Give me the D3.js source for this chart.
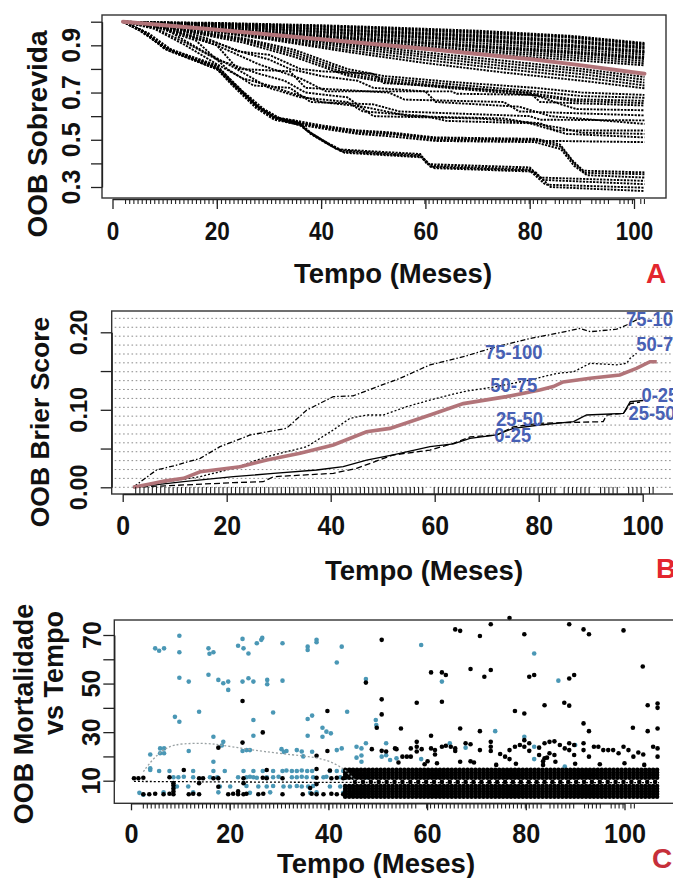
<!DOCTYPE html>
<html><head><meta charset="utf-8">
<script src="https://cdn.jsdelivr.net/npm/d3@7"></script>
<style>
body{margin:0;background:#fff}
svg{display:block}
text{font-family:"Liberation Sans",Arial,sans-serif;font-weight:bold;fill:#111}
</style>
</head><body>
<svg id="chart" width="673" height="878"></svg>
<script>
// ---------------- DATA ----------------
const xTicks = [0,20,40,60,80,100];
const survYTicks = [0.3,0.4,0.5,0.6,0.7,0.8,0.9,1.0];
const survYLabels = [0.3,0.5,0.7,0.9];
const brierYTicks = [0,0.05,0.1,0.15,0.2];
const brierYLabels = [0,0.1,0.2];
const mortYTicks = [10,20,30,40,50,60,70];
const mortYLabels = [10,30,50,70];

// event times (rug)
const eventTimes = [2.5,3.3,4.1,4.9,5.7,6.5,7.3,8.1,8.9,9.7,10.5,11.3,12.1,12.9,13.7,14.5,15.3,16.1,16.9,17.7,18.5,19.3,20.1,20.9,21.7,22.5,23.3,24.1,24.9,25.7,26.5,27.3,28.1,28.9,29.7,30.5,31.3,32.1,32.9,33.7,34.5,35.3,36.1,36.9,37.7,38.5,39.3,40.1,40.9,41.7,42.5,43.3,44.1,44.9,45.7,46.5,47.3,48.1,48.9,49.7,50.5,51.3,52.1,52.9,53.7,54.5,55.3,56.1,56.9,57.7,59.9,60.7,61.5,62.3,63.1,63.9,64.7,65.5,66.3,67.1,67.9,68.7,69.5,70.3,71.1,71.9,72.7,73.5,74.3,75.1,75.9,76.7,77.5,78.3,79.1,79.9,80.7,81.5,82.3,83.1,84.9,85.7,86.5,87.3,88.1,88.9,89.7,91.9,92.7,93.5,94.3,95.1,97.3,98.1,98.9,99.7,101.3,102.0];

// Panel A: OOB survival curves [time, survival]
const survMean = [[2,1],[10,.985],[20,.966],[30,.946],[40,.926],[50,.906],[60,.885],[70,.863],[80,.842],[90,.815],[102,.78]];
const survTop = [
 [[2,1],[20,.995],[40,.985],[50,.978],[70,.962],[88,.94],[102,.91]],
 [[2,1],[20,.993],[40,.981],[50,.974],[70,.957],[88,.936],[102,.906]],
 [[2,1],[20,.992],[40,.978],[50,.97],[70,.952],[88,.932],[102,.902]],
 [[2,1],[20,.99],[40,.972],[50,.963],[70,.944],[88,.922],[102,.895]],
 [[2,1],[20,.988],[40,.969],[50,.959],[70,.939],[88,.917],[102,.89]],
 [[2,1],[20,.987],[40,.966],[50,.956],[70,.935],[88,.912],[102,.886]],
 [[2,1],[20,.984],[40,.96],[50,.949],[70,.927],[88,.902],[102,.877]],
 [[2,1],[20,.982],[40,.957],[50,.945],[70,.922],[88,.897],[102,.872]],
 [[2,1],[20,.98],[40,.954],[50,.942],[70,.918],[88,.893],[102,.868]],
 [[2,1],[20,.977],[40,.948],[50,.935],[70,.909],[88,.884],[102,.86]],
 [[2,1],[20,.974],[40,.942],[50,.928],[70,.9],[88,.875],[102,.851]],
 [[2,1],[20,.972],[40,.939],[50,.924],[70,.895],[88,.87],[102,.846]],
 [[2,1],[20,.971],[40,.936],[50,.921],[70,.891],[88,.866],[102,.842]],
 [[2,1],[20,.968],[40,.93],[50,.914],[70,.882],[88,.857],[102,.833]],
 [[2,1],[20,.965],[40,.925],[50,.907],[70,.875],[88,.848],[102,.824]],
 [[2,1],[20,.962],[40,.918],[50,.898],[70,.866],[88,.838],[102,.815]]
];
const survMid = [
 [[2,1],[15,.98],[30,.945],[45,.905],[60,.87],[75,.835],[90,.8],[102,.766]],
 [[2,1],[15,.978],[30,.94],[45,.898],[60,.86],[75,.824],[90,.79],[102,.754]],
 [[2,1],[15,.975],[30,.935],[45,.89],[60,.85],[75,.812],[90,.778],[102,.742]],
 [[2,1],[15,.972],[30,.93],[45,.88],[60,.838],[75,.8],[90,.765],[102,.73]],
 [[2,1],[15,.97],[30,.925],[45,.872],[60,.825],[75,.785],[90,.75],[102,.718]],
 [[2,1],[12,.975],[25,.93],[35,.88],[45,.8],[52,.77],[65,.745],[81,.72],[90,.7],[102,.69]],
 [[2,1],[12,.972],[25,.925],[35,.87],[45,.79],[52,.76],[65,.735],[81,.705],[90,.685],[102,.678]],
 [[2,1],[12,.97],[25,.92],[35,.86],[45,.78],[52,.752],[65,.725],[81,.695],[88,.672],[102,.665]],
 [[2,1],[12,.968],[25,.912],[35,.85],[45,.772],[52,.745],[65,.718],[81,.688],[88,.665],[102,.655]],
 [[2,1],[10,.97],[20,.9],[28,.82],[36,.76],[41,.705],[65,.705],[66,.695],[81,.69],[86,.65],[89,.63],[102,.625]]
];
const survLow = [
 [[2,1],[10,.98],[18,.93],[24,.875],[30,.86],[36,.8],[40,.79],[50,.78],[52,.74],[60,.73],[80,.7],[82,.66],[102,.645]],
 [[2,1],[10,.975],[20,.9],[24,.8],[34,.79],[37,.72],[53,.7],[56,.67],[75,.66],[78,.62],[102,.603]],
 [[2,1],[8,.98],[16,.92],[22,.8],[27,.73],[34,.72],[38,.66],[50,.65],[55,.62],[80,.6],[82,.585],[102,.582]],
 [[2,1],[8,.975],[15,.9],[20,.84],[28,.78],[33,.75],[37,.7],[45,.68],[50,.6],[70,.59],[82,.57],[85,.54],[102,.539]],
 [[2,1],[10,.97],[17,.88],[23,.81],[30,.72],[36,.68],[45,.66],[48,.62],[60,.6],[64,.58],[80,.57],[87,.525],[102,.51]],
 [[2,1],[10,.972],[20,.91],[25,.87],[30,.84],[34,.8],[40,.77],[47,.75],[50,.72],[60,.705],[62,.66],[78,.64],[84,.6],[102,.567]],
 [[2,1],[8,.97],[14,.9],[20,.82],[25,.76],[30,.73],[34,.7],[40,.66],[48,.64],[57,.6],[75,.59],[86,.55],[90,.53],[102,.525]],
 [[2,1],[5,.97],[9.7,.894],[20,.816],[23,.745],[27.6,.646],[30.8,.596],[35.3,.58],[40.4,.56],[46.8,.54],[53,.532],[62,.51],[81.3,.504],[85.8,.48],[88.3,.41],[90.3,.369],[102,.362]],
 [[2,1],[5,.965],[10,.89],[20,.81],[23,.74],[27.6,.64],[31,.592],[35,.575],[40,.556],[47,.536],[53,.528],[62,.506],[81,.5],[86,.47],[88.5,.4],[90.5,.36],[102,.354]],
 [[2,1],[6,.96],[10,.885],[20,.805],[23,.735],[28,.635],[31,.59],[36,.57],[41,.55],[47,.53],[54,.522],[62,.5],[81,.496],[102,.49]],
 [[2,1],[6,.955],[10,.885],[20,.8],[23,.73],[27.5,.635],[31,.585],[35.5,.565],[41,.545],[47,.525],[53,.515],[62,.495],[81,.49],[86,.46],[88.5,.39],[91,.35],[102,.34]],
 [[2,1],[6,.96],[10,.89],[20,.81],[23,.74],[27.6,.645],[31,.595],[35.3,.58],[37.2,.54],[40.4,.497],[43,.46],[53,.447],[59,.44],[60.3,.397],[80,.383],[82,.34],[102,.326]],
 [[2,1],[6,.955],[11,.88],[20,.8],[24,.72],[28,.64],[32,.59],[36,.57],[38,.53],[41,.49],[44,.455],[54,.44],[59,.435],[61,.39],[80,.375],[82.5,.33],[102,.312]],
 [[2,1],[6,.955],[11,.875],[20,.8],[24,.715],[28,.635],[32,.585],[36,.565],[38,.525],[41,.485],[44,.45],[55,.435],[59,.43],[61,.385],[80,.37],[83,.31],[102,.297]],
 [[2,1],[7,.95],[12,.87],[21,.79],[25,.705],[29,.63],[33,.58],[36,.56],[38.5,.52],[41.5,.48],[44.5,.445],[56,.43],[59.5,.425],[61.5,.38],[81,.365],[84,.3],[102,.283]]
];

// Panel B: OOB Brier score [time, score]
const brierAll = [[2,0],[5,.004],[8,.008],[11.7,.0116],[14.9,.02],[22.6,.0266],[27.7,.0352],[34.1,.0439],[40.5,.0546],[46.9,.0717],[51.4,.076],[59.1,.0933],[65.5,.108],[73.8,.117],[80.2,.1255],[82.8,.13],[84.7,.136],[89.9,.1406],[95.6,.145],[98.8,.1535],[101.4,.162],[102.7,.162]];
const brierQ1 = [[2,0],[11.7,.0072],[21.3,.0137],[29,.018],[37.3,.0223],[42.4,.0266],[46.9,.0352],[52,.0417],[59.1,.0524],[63.6,.0559],[66.8,.0632],[71.9,.0675],[75.1,.0761],[80.2,.0804],[86.7,.0847],[89.2,.0933],[96.3,.0955],[97.6,.1105],[100.1,.112]];
const brierQ2 = [[2,0],[11.7,.003],[21.3,.006],[27,.0072],[29,.0137],[40.5,.018],[45,.0245],[52,.0417],[59.1,.048],[63.6,.0568],[66.8,.065],[71.9,.0675],[75.1,.078],[80.2,.0826],[92.4,.0847],[93.1,.0933],[96.3,.0955],[97.6,.108],[99.5,.11]];
const brierQ3 = [[2,0],[8.5,.0072],[14.9,.0137],[21.3,.0245],[27.7,.0395],[35.4,.0524],[40.5,.074],[43.7,.089],[46.9,.0933],[50.1,.0933],[54.6,.104],[59.1,.1126],[65.5,.1234],[71.9,.13],[78.3,.1385],[83.5,.147],[86.7,.149],[89.9,.16],[95,.158],[96.9,.16],[97.6,.1665],[98.8,.173]];
const brierQ4 = [[2,0],[6.5,.0223],[10,.028],[14.9,.0374],[18.7,.0524],[24.5,.0675],[31.5,.0761],[35.4,.0997],[40.5,.117],[44.3,.118],[53.3,.1406],[59.1,.158],[65.5,.1685],[71.9,.1814],[78.3,.192],[83.5,.1987],[87.9,.205],[89.9,.2008],[95,.204],[96.9,.2094],[98.8,.216],[99.5,.217]];
const brierGrid = [0,.0115,.0229,.0344,.0459,.0574,.0688,.0803,.0918,.1032,.1147,.1262,.1376,.1491,.1606,.172,.1835,.195,.2065,.218];
const brierLabels = ["0-25","25-50","50-75","75-100"];
const brierLabelMid = [[75,.0675],[76.3,.0888],[75.2,.132],[75.2,.175]];
const brierLabelEnd = [[103.3,.1188],[101.8,.0961],[103.3,.185],[102.3,.217]];

// Panel C: OOB mortality vs time [time, mortality]
const mortEvent = [
 [4.9,64.5],[5.7,63.5],[6.7,64.5],[9.8,69.7],[9.8,62.9],[9.8,52.4],[11.7,50.8],[8.9,36.3],[9.8,34.3],
 [15.7,64.5],[16.7,62.9],[15.9,62.3],[15.7,53.6],[17.7,51.5],[18.7,50.1],[19.7,50.8],[19.7,47.4],
 [13.8,38.4],[16.7,28.1],[16.7,17.8],[18.7,26],[18.4,24.5],[11.7,22.2],
 [21.7,65.6],[22.8,64.5],[22.6,68.4],[23.8,62.4],[25.5,66.6],[26.4,68],[26.6,68.8],
 [22.6,50.8],[23.8,52.2],[24.8,50.8],[27.6,51.5],[27.6,49.7],[30.7,66.6],[30.7,51.2],[28.8,38.1],[24.8,35],[24.8,28.5],
 [23.4,22.6],[24.1,22.6],[22.6,22.2],[30.5,23],[31,21.8],[31.5,22.2],[33.6,22.6],[34.6,22],[34.9,20],
 [35.8,65.2],[35.8,63.8],[37.6,68],[37.6,67],[35.8,35.4],[36.7,36.8],[35.8,28.5],[36.7,21.9],
 [38.8,31.8],[39.6,30.2],[40.5,29.5],[38.8,28.1],[42.7,65.2],[41.7,58.7],[43.8,38.4],[41.7,22.6],[42.7,23.3],
 [45.7,24],[46.7,23.3],[47.6,25.4],[47.6,51.9],[49.6,35],[49.7,32.9],[51.7,25.4],[45.7,19.5],[46.7,20.4],[46.7,17.8],
 [50.8,19.9],[51.7,20.5],[52.5,18.5],[53.8,19.2],[3.9,20.8],[5.9,23.3],[6.7,23.3],[5.9,21.3],[6.7,21.3],
 [58.8,65.9],[81.7,62.4],[63,50.8],[86.6,51.2],[73.8,30.4],[79.7,28.1],[64.6,25.4],[67.8,23.6],[90,24.7],[58.8,18.9],[81.7,24],[81.7,18.9],[87.9,15.8],
 [3.9,14.4],[3.9,15.1],[5.7,14],[7.8,14],[12.6,14],[16.7,14],[19,14],[22.8,14],[24.8,14],[26.7,14],[28.8,14],[30.7,14],[31.5,14.2],[32.6,14],[33.6,14],[34.6,14.2],[35.7,14],[36.7,14],[40.3,14],[41.7,14],[43,14],[45.7,14],
 [8.6,11.4],[9.6,11.4],[10.7,11.6],[12.6,11.4],[16,11.4],[17.5,11.4],[21.7,11.4],[23.4,11.4],[24.1,11.6],[24.8,11.4],[25.5,11.2],[27.5,11.4],[28.8,11.4],[29.9,11.6],[32.6,11.4],[33.6,11.4],[34.6,11.6],[35.6,11.4],[36.9,11.4],[39,11.4],[39.6,11.6],[42.4,11.4],[43.7,11.4],[45,11.4],[47.8,11.4],
 [9.3,7.6],[11.6,7.6],[18,7.6],[20.1,7.6],[23.4,7.8],[25.8,7.6],[27.5,7.6],[28.8,7.8],[30.9,7.6],[32.2,7.6],[33.6,7.8],[34.6,7.6],[35.9,7.6],[36.9,7.8],[40.3,7.6],[42.4,7.6],[44.4,7.6],
 [1.7,5],[2.5,4.2],[6.6,5.2],[12.6,5.2],[17.7,5.2],[24.1,5],[28.2,5.2],[36.3,5],[37.6,5.2],[43,5],[47.1,5.2]
];
const mortCensored = [
 [22.6,42.8],[26.7,29.9],[39.8,38.7],[22.6,25.7],[17.7,23.6],[37.6,20.3],[39.8,22.2],[50.8,68],[47.6,50.4],[50.8,43.5],[50.8,37.3],[49.8,31.8],[48.8,23],[50.8,22.3],[51.7,22],[53.8,23],
 [76.7,77],[65.7,72.3],[66.7,71.7],[70.7,69.6],[72.9,74.4],[79.7,70.3],[88.8,74.4],[91.7,72.3],[92.8,70.3],[99.8,71.9],[103.7,57],
 [60.8,54.6],[63,54.6],[63.8,53.5],[68.8,56],[71.6,52.8],[72.9,55.6],[80.7,52.8],[81.7,53.5],[88.8,52.1],[89.8,53.5],
 [57.9,42.1],[63,42.5],[83.8,41.1],[87.8,42.1],[88.8,40.9],[104.7,41.1],[106.7,41.8],[106.7,40],
 [77.8,38.7],[79.7,37.7],[91.7,33.6],[92.8,30.4],[54.7,31.5],[66.7,31.5],[70.7,30.4],[101.7,31.8],[104.7,30.4],[106.7,31.5],[60.8,28.5],
 [53.5,23.3],[55,19.9],[55.9,19.9],[56.7,19.9],[56.7,23.3],[57.9,26],[57.9,24],[57.9,22],[58.9,23],[60.1,18],[60.8,23.3],[61.6,22.6],[61.6,20.8],[63,24],[63.8,24.4],[64.8,24],[65.7,22.2],[65.7,23.3],[66.7,17.8],[67.8,25.4],[68.8,25],[68.8,18],[70.7,22.6],[72.9,26],[72.9,24],[72.9,22.2],[74.8,21],[75.8,19.9],[76.7,18.9],[76.7,22.6],[77.8,24],[78.8,24.7],[79.7,26.7],[79.7,24],[80.7,25.4],[80.7,22.3],[82.7,23.6],[82.7,20.6],[83.8,25.4],[83.8,19.2],[84.8,26],[84.8,21.3],[85.8,26.2],[85.8,20.6],[86.9,24.7],[87.9,23.3],[88.8,25.4],[88.8,22.6],[89.8,24.7],[89.8,20.6],[91.7,25.4],[91.7,22.6],[92.8,19.9],[93.8,24],[94.7,24],[95.7,22.6],[96.7,22.6],[97.7,22.6],[98.8,21.3],[99.8,24],[100.8,22.6],[101.8,19.9],[102.8,21.6],[103.8,20.8],[105.8,24],[106.7,23.3],[106.7,19.9],
 [54.2,17.5],[59.5,16.8],[62,17.2],[69.5,17.5],[74,16.5],[78,17],[83.5,16.5],[83.5,18],[84.3,19.5],[86,17.8],[90,17],[95,16.8],[100,17.2],[104,16.5],
 [10.7,14.4],[27.5,14.4],[37.6,14.8],[40.3,14.2],[44.4,14.4],
 [0.6,11],[1.5,11],[2.5,11.2],[7.8,11.4],[13.8,11],[14.6,11],[16.7,11],[17.7,11],[22.8,11],[26.7,11.2],[27.5,11],[30.7,11],[37.6,11.2],[40.6,11],[41.7,11.2],[43,11],
 [8.6,9],[13.8,9],[22.8,9],[37.6,8.6],[17.7,7.5],[36.3,7],
 [2.5,4.4],[3.7,4.4],[4.9,4.6],[6.6,4.4],[7.8,4.6],[8.6,4.4],[8.6,5.6],[8.6,6.8],[8.6,8],[11.7,4.4],[12.6,4.6],[13.8,4.4],[19.7,4.4],[20.7,4.6],[21.7,4.4],[21.7,5.6],[22.8,4.4],[23.4,4.6],[25.8,4.4],[26.8,4.6],[30.7,4.4],[34.8,4.4],[36.6,4.6],[37.6,4.4],[39,4.4],[40.6,4.6],[41.7,4.4],[43,4.4],[44.4,4.4]
];
// dense censored block (times x mortality levels)
const denseTimes = [43.4,44.2,45,45.8,46.6,47.4,48.2,49,49.8,50.6,51.4,52.2,53,53.8,54.6,55.4,56.2,57,57.8,58.6,59.4,60.2,61,61.8,62.6,63.4,64.2,65,65.8,66.6,67.4,68.2,69,69.8,70.6,71.4,72.2,73,73.8,74.6,75.4,76.2,77,77.8,78.6,79.4,80.2,81,81.8,82.6,83.4,84.2,85,85.8,86.6,87.4,88.2,89,89.8,90.6,91.4,92.2,93,93.8,94.6,95.4,96.2,97,97.8,98.6,99.4,100.2,101,101.8,102.6,103.4,104.2,105,105.8,106.6];
const denseLevels = [3.4,4.5,5.6,6.7,7.8,11.2,12.3,13.4,14.5];
const denseMidTimes = [45.4,47,48.6,50.2,51.8,53.4,55,56.6,58.2,59.8,61.4,63,64.6,66.2,67.8,69.4,71,72.6,74.2,75.8,77.4,79,80.6,82.2,83.8,85.4,87,88.6,90.2,91.8,93.4,95,96.6,98.2,99.8,101.4,103,104.6,106.2];
const denseMidLevel = 9.5;
const smoothEvent = [[2.5,13.7],[4.5,19.2],[7.2,24],[10.3,25.4],[16,25.4],[18,24.7],[22.8,23.3],[26.8,22],[32.9,20.6],[36.3,19.9],[40,18.5],[43,15.1],[44.4,12.3],[45.7,9.6]];
const smoothCensored = [[0.6,9.7],[10,9.6],[20,9.5],[30,9.4],[40,9.3],[60,9.2],[80,9.2],[107,9.2]];

// ---------------- DRAW ----------------
const svg = d3.select("#chart");
svg.append("rect").attr("width",673).attr("height",878).attr("fill","#fff");
const ROSY = "#b27479";
const BLUE_TXT = "#4760b4";
const PT_BLUE = "#4a97b5";

function squeeze(sel, f){
  sel.each(function(){
    const w = this.getComputedTextLength();
    d3.select(this).attr("textLength", w*f).attr("lengthAdjust","spacingAndGlyphs");
  });
}
function rotLabel(g, x, y, txt, size){
  return g.append("text").attr("x",x).attr("y",y)
    .attr("transform",`rotate(-90,${x},${y})`)
    .attr("text-anchor","middle").attr("font-size",size).text(txt);
}
function xAxis(g, scale, y, tick, pad, fs, sq){
  const ax = g.append("g").attr("transform",`translate(0,${y})`)
    .call(d3.axisBottom(scale).tickValues(xTicks).tickSizeInner(tick).tickSizeOuter(0).tickPadding(pad).tickFormat(d3.format("d")));
  ax.select(".domain").attr("stroke","#222").attr("stroke-width",1.3);
  ax.selectAll(".tick line").attr("stroke","#222").attr("stroke-width",1.3);
  ax.selectAll("text").attr("font-size",fs).attr("fill","#111")
    .style("font-family",'"Liberation Sans",Arial,sans-serif').style("font-weight","bold");
  squeeze(ax.selectAll("text"), sq);
  return ax;
}
function yAxis(g, scale, x, ticks, labels, fmt, tick, labX, fs){
  const ax = g.append("g").attr("transform",`translate(${x},0)`)
    .call(d3.axisLeft(scale).tickValues(ticks).tickSizeInner(tick).tickSizeOuter(0).tickFormat(""));
  ax.select(".domain").attr("stroke","#222").attr("stroke-width",1.3);
  ax.selectAll(".tick line").attr("stroke","#222").attr("stroke-width",1.3);
  labels.forEach(v => rotLabel(g, labX, scale(v), fmt(v), fs));
}
function box(g, l, t, r, b){
  g.append("rect").attr("x",l).attr("y",t).attr("width",r-l).attr("height",b-t)
    .attr("fill","none").attr("stroke","#333").attr("stroke-width",1.4);
}

// ===== Panel A =====
const gA = svg.append("g");
const A = {l:102,t:15,r:666,b:198};
const xA = d3.scaleLinear().domain([0,100]).range([112.5,634]);
const yA = d3.scaleLinear().domain([0.3,1.0]).range([187,21.7]);
svg.append("clipPath").attr("id","clipA").append("rect").attr("x",A.l).attr("y",A.t).attr("width",A.r-A.l).attr("height",A.b-A.t);
const lineA = d3.line().x(d=>xA(d[0])).y(d=>yA(d[1]));
const curvesA = gA.append("g").attr("clip-path","url(#clipA)");
[...survLow, ...survMid, ...survTop].forEach(c=>{
  curvesA.append("path").attr("d",lineA(c)).attr("fill","none")
    .attr("stroke","#000").attr("stroke-width",1.9).attr("stroke-dasharray","2.2,1.2");
});
curvesA.append("path").attr("d",lineA(survMean)).attr("fill","none")
  .attr("stroke",ROSY).attr("stroke-width",4).attr("stroke-linecap","round");
box(gA, A.l, A.t, A.r, A.b);
xAxis(gA, xA, 199, 10, 13, 25, 0.9);
gA.append("g").selectAll("line").data(eventTimes).join("line")
  .attr("x1",d=>xA(d)).attr("x2",d=>xA(d)).attr("y1",199).attr("y2",204)
  .attr("stroke","#222").attr("stroke-width",1.1);
yAxis(gA, yA, A.l, survYTicks, survYLabels, d3.format(".1f"), 11, 80, 25);
rotLabel(gA, 47, 134, "OOB Sobrevida", 28);
gA.append("text").attr("x",393).attr("y",283).attr("text-anchor","middle").attr("font-size",27.5).text("Tempo (Meses)");
gA.append("text").attr("x",646).attr("y",283).attr("font-size",28).style("fill","#e3262e").text("A");

// ===== Panel B =====
const gB = svg.append("g");
const B = {l:111.7,t:311,r:700,b:494};
const xB = d3.scaleLinear().domain([0,100]).range([122.7,642.7]);
const yB = d3.scaleLinear().domain([0,0.2]).range([487.3,332.3]);
gB.append("g").selectAll("line").data(brierGrid).join("line")
  .attr("x1",B.l+3).attr("x2",680).attr("y1",d=>yB(d)).attr("y2",d=>yB(d))
  .attr("stroke","#8a8a8a").attr("stroke-width",1).attr("stroke-dasharray","1.6,2.6");
const lineB = d3.line().x(d=>xB(d[0])).y(d=>yB(d[1]));
const qStyles = [null,"6,3","2,2","5,2,1.5,2"];
[brierQ1,brierQ2,brierQ3,brierQ4].forEach((c,i)=>{
  gB.append("path").attr("d",lineB(c)).attr("fill","none").attr("stroke","#000")
    .attr("stroke-width",1.3).attr("stroke-dasharray",qStyles[i]);
});
gB.append("path").attr("d",lineB(brierAll)).attr("fill","none").attr("stroke",ROSY).attr("stroke-width",3.6);
brierLabels.forEach((lab,i)=>{
  [brierLabelMid[i], brierLabelEnd[i]].forEach(p=>{
    gB.append("text").attr("x",xB(p[0])).attr("y",yB(p[1])).attr("dy","0.36em")
      .attr("text-anchor","middle").attr("font-size",20).style("fill",BLUE_TXT).text(lab)
      .call(s=>squeeze(s,0.92));
  });
});
gB.append("g").selectAll("line").data(eventTimes).join("line")
  .attr("x1",d=>xB(d)).attr("x2",d=>xB(d)).attr("y1",494).attr("y2",487)
  .attr("stroke","#222").attr("stroke-width",1.1);
box(gB, B.l, B.t, B.r, B.b);
xAxis(gB, xB, 494, 8, 14, 27, 0.92);
yAxis(gB, yB, B.l, brierYTicks, brierYLabels, d3.format(".2f"), 11, 87.5, 23.5);
rotLabel(gB, 49, 422, "OOB Brier Score", 26.5);
gB.append("text").attr("x",424).attr("y",580).attr("text-anchor","middle").attr("font-size",27.5).text("Tempo (Meses)");
gB.append("text").attr("x",656).attr("y",578).attr("font-size",28).style("fill","#e3262e").text("B");

// ===== Panel C =====
const gC = svg.append("g");
const C = {l:114.3,t:620,r:700,b:803.3};
const xC = d3.scaleLinear().domain([0,100]).range([131,624.5]);
const yC = d3.scaleLinear().domain([10,70]).range([780.7,635]);
const denseBlock = [];
denseTimes.forEach(t=>denseLevels.forEach(v=>denseBlock.push([t,v])));
denseMidTimes.forEach(t=>denseBlock.push([t,denseMidLevel]));
gC.append("g").selectAll("circle").data(mortEvent).join("circle")
  .attr("cx",d=>xC(d[0])).attr("cy",d=>yC(d[1])).attr("r",2.3).attr("fill",PT_BLUE);
gC.append("g").selectAll("circle").data(denseBlock).join("circle")
  .attr("cx",d=>xC(d[0])).attr("cy",d=>yC(d[1])).attr("r",2.3).attr("fill","#000");
gC.append("g").selectAll("circle").data(mortCensored).join("circle")
  .attr("cx",d=>xC(d[0])).attr("cy",d=>yC(d[1])).attr("r",2.3).attr("fill","#000");
const lineC = d3.line().curve(d3.curveBasis).x(d=>xC(d[0])).y(d=>yC(d[1]));
gC.append("path").attr("d",lineC(smoothEvent)).attr("fill","none").attr("stroke","#9aa2a4")
  .attr("stroke-width",1.3).attr("stroke-dasharray","2,2");
gC.append("path").attr("d",lineC(smoothCensored)).attr("fill","none").attr("stroke","#000")
  .attr("stroke-width",1.3).attr("stroke-dasharray","2,2");
box(gC, C.l, C.t, C.r, C.b);
xAxis(gC, xC, 803.3, 7, 13, 28, 0.9);
gC.append("g").selectAll("line").data(eventTimes).join("line")
  .attr("x1",d=>xC(d)).attr("x2",d=>xC(d)).attr("y1",804).attr("y2",808.5)
  .attr("stroke","#222").attr("stroke-width",1.1);
yAxis(gC, yC, C.l, mortYTicks, mortYLabels, d3.format("d"), 11, 100.5, 25);
rotLabel(gC, 33, 714, "OOB Mortalidade", 27);
rotLabel(gC, 63, 673, "vs Tempo", 27);
gC.append("text").attr("x",376).attr("y",873).attr("text-anchor","middle").attr("font-size",27.5).text("Tempo (Meses)");
gC.append("text").attr("x",652).attr("y",868).attr("font-size",28).style("fill","#c62f3a").text("C");
</script>
</body></html>
